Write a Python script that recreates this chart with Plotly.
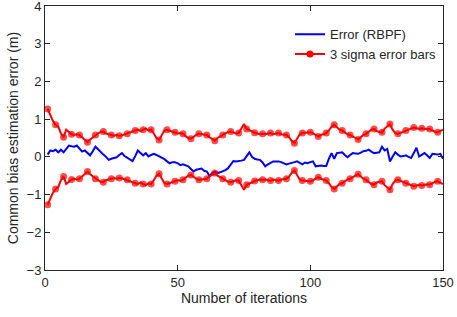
import plotly.graph_objects as go

iterations = list(range(1, 151))

error_rbpf = [
    0.06, 0.17, 0.15, 0.19, 0.12, 0.19, 0.12, 0.22, 0.30, 0.28,
    0.27, 0.30, 0.22, 0.14, 0.17, 0.10, 0.04, 0.15, 0.27, 0.20,
    0.12, 0.06, 0.00, -0.08, -0.05, -0.03, -0.01, 0.05, 0.10, 0.02,
    -0.03, -0.08, -0.11, 0.02, 0.17, 0.10, 0.04, 0.10, 0.01, 0.05,
    0.08, 0.05, 0.02, -0.01, -0.06, -0.12, -0.17, -0.14, -0.14, -0.17,
    -0.22, -0.20, -0.23, -0.25, -0.32, -0.39, -0.34, -0.32, -0.31, -0.37,
    -0.39, -0.51, -0.43, -0.39, -0.43, -0.41, -0.39, -0.35, -0.30, -0.22,
    -0.11, -0.12, -0.12, -0.10, -0.08, 0.02, 0.12, 0.00, -0.05, -0.07,
    -0.08, -0.15, -0.25, -0.20, -0.15, -0.12, -0.12, -0.12, -0.14, -0.18,
    -0.20, -0.18, -0.17, -0.14, -0.12, -0.16, -0.20, -0.15, -0.17, -0.14,
    -0.12, -0.25, -0.24, -0.23, -0.24, -0.24, -0.05, 0.10, -0.05, 0.10,
    0.11, 0.12, 0.05, -0.01, 0.05, 0.10, 0.09, 0.08, 0.11, 0.15,
    0.16, 0.19, 0.14, 0.10, 0.11, 0.12, 0.27, 0.17, 0.21, -0.12,
    0.00, 0.12, 0.06, 0.01, 0.02, 0.04, 0.00, -0.03, 0.10, 0.24,
    0.01, 0.05, 0.10, 0.04, -0.03, 0.08, 0.07, 0.06, 0.08, -0.05,
]

sigma3 = [
    1.27, 1.10, 0.95, 0.85, 0.80, 0.62, 0.52, 0.72, 0.66, 0.60,
    0.58, 0.60, 0.58, 0.52, 0.45, 0.39, 0.46, 0.52, 0.58, 0.62,
    0.66, 0.67, 0.62, 0.60, 0.58, 0.56, 0.58, 0.56, 0.57, 0.60,
    0.61, 0.64, 0.68, 0.70, 0.72, 0.68, 0.72, 0.75, 0.70, 0.72,
    0.62, 0.50, 0.45, 0.58, 0.70, 0.72, 0.70, 0.66, 0.65, 0.62,
    0.63, 0.61, 0.55, 0.50, 0.48, 0.54, 0.58, 0.61, 0.60, 0.58,
    0.58, 0.52, 0.47, 0.43, 0.50, 0.55, 0.58, 0.62, 0.66, 0.67,
    0.64, 0.62, 0.63, 0.75, 0.87, 0.74, 0.70, 0.66, 0.64, 0.62,
    0.60, 0.61, 0.60, 0.62, 0.63, 0.60, 0.62, 0.63, 0.60, 0.58,
    0.58, 0.52, 0.42, 0.36, 0.50, 0.60, 0.63, 0.64, 0.65, 0.65,
    0.62, 0.58, 0.54, 0.58, 0.60, 0.63, 0.70, 0.80, 0.85, 0.78,
    0.72, 0.70, 0.65, 0.60, 0.58, 0.55, 0.50, 0.46, 0.52, 0.58,
    0.61, 0.66, 0.72, 0.74, 0.68, 0.66, 0.65, 0.75, 0.80, 0.87,
    0.72, 0.63, 0.61, 0.64, 0.67, 0.70, 0.74, 0.76, 0.78, 0.76,
    0.74, 0.76, 0.75, 0.73, 0.74, 0.70, 0.66, 0.65, 0.68, 0.72,
]

y_ticks = [-3, -2, -1, 0, 1, 2, 3, 4]
x_ticks = [0, 50, 100, 150]

lower = [-v for v in sigma3]
marker_every = 3
marker_sizes = [7 if (k % marker_every == 0) else 0 for k in range(len(iterations))]

RED = "#FF0000"
BLUE = "#0000FF"
AX = "#262626"

fig = go.Figure()
fig.add_trace(go.Scatter(x=iterations, y=error_rbpf, mode="lines",
                         line=dict(color=BLUE, width=2), name="Error (RBPF)"))
fig.add_trace(go.Scatter(x=[None], y=[None], mode="lines+markers",
                         line=dict(color=RED, width=2), marker=dict(color=RED, size=7),
                         name="3 sigma error bars"))
for band in (sigma3, lower):
    fig.add_trace(go.Scatter(x=iterations, y=band, mode="lines+markers",
                             line=dict(color=RED, width=2),
                             marker=dict(color=RED, size=marker_sizes, line=dict(width=0)),
                             showlegend=False))

axis_common = dict(showline=True, linecolor=AX, linewidth=1, mirror="ticks",
                   ticks="inside", ticklen=5, tickcolor=AX, showgrid=False,
                   zeroline=False, automargin=False, ticklabeloverflow="allow",
                   tickfont=dict(size=13, color=AX))

fig.update_layout(
    width=457, height=317,
    margin=dict(l=45, r=14, t=6, b=47),
    paper_bgcolor="white", plot_bgcolor="white",
    font=dict(family="Liberation Sans, Arial, sans-serif", size=12, color=AX),
    xaxis=dict(range=[0, 150], tickmode="array", tickvals=x_ticks,
               title=dict(text="Number of iterations", font=dict(size=14, color=AX), standoff=4),
               **axis_common),
    yaxis=dict(range=[-3, 4], tickmode="array", tickvals=y_ticks,
               title=dict(text="Common bias estimation error (m)", font=dict(size=14, color=AX), standoff=4),
               **axis_common),
    legend=dict(x=0.995, y=0.95, xanchor="right", yanchor="top",
                bgcolor="rgba(255,255,255,0)", borderwidth=0,
                font=dict(size=13, color=AX), tracegroupgap=0),
    showlegend=True,
)

fig.write_html("out.html", config={"displayModeBar": False},
               post_script="document.body.style.margin='0';document.body.style.padding='0';")
